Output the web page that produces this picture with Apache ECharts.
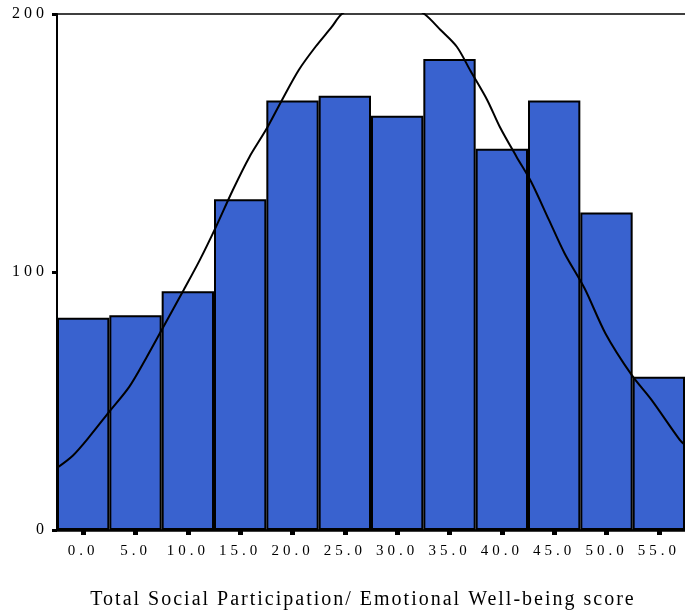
<!DOCTYPE html>
<html>
<head>
<meta charset="utf-8">
<script src="https://cdn.jsdelivr.net/npm/echarts@6/dist/echarts.min.js"></script>
<style>
html,body{margin:0;padding:0;background:#fff;}
#main{width:685px;height:611px;}
</style>
</head>
<body>
<div id="main"></div>
<script>
// --- data ---
const categories = ['0.0','5.0','10.0','15.0','20.0','25.0','30.0','35.0','40.0','45.0','50.0','55.0'];
const counts = [82.3, 83.2, 92.5, 128.2, 166.5, 168.3, 160.6, 182.6, 147.8, 166.5, 123.1, 59.4];
const curveX = [-2.5, -1.0, 0.6, 2.5, 4.4, 6.0, 7.5, 9.6, 11.15, 12.7, 14.3, 15.9, 17.45, 19.0, 20.6, 22.2, 23.75, 24.7, 26.5, 28.6, 30.7, 32.6, 34.15, 35.7, 37.0, 38.6, 39.8, 41.4, 42.8, 44.5, 46.0, 47.9, 49.9, 52.4, 54.3, 57.0, 57.5];
const curveY = [24.1, 28.8, 36.2, 45.9, 55.5, 66.5, 77.5, 93.0, 104.7, 117.6, 131.8, 144.7, 155.0, 166.7, 178.3, 187.3, 195.0, 200.0, 204.0, 206.0, 204.0, 200.0, 193.8, 187.3, 178.0, 166.7, 156.3, 144.7, 135.0, 120.2, 107.2, 93.7, 76.2, 60.1, 50.4, 34.9, 33.0];
const yTicks = [0, 100, 200];
const xTitle = 'Total Social Participation/ Emotional Well-being score';

// letter spacing like the SPSS output
(function(){
  const P = CanvasRenderingContext2D.prototype;
  const orig = P.fillText;
  P.fillText = function(t, x, y, w){
    const m = /(\d+(?:\.\d+)?)px/.exec(this.font);
    const s = m ? parseFloat(m[1]) : 12;
    try { this.letterSpacing = s >= 19 ? '2px' : '4px'; } catch(e) {}
    return w === undefined ? orig.call(this, t, x, y) : orig.call(this, t, x, y, w);
  };
})();

const chart = echarts.init(document.getElementById('main'), null, {renderer:'canvas'});
const font = 'Liberation Serif';
chart.setOption({
  animation: false,
  backgroundColor: '#fff',
  grid: {left: 57, top: 14, width: 633, height: 516, containLabel: false},
  xAxis: [{
    type: 'category',
    data: categories,
    position: 'bottom',
    boundaryGap: true,
    axisLine: {show: true, onZero: false, lineStyle: {color: '#000', width: 2.5}},
    axisTick: {show: true, alignWithLabel: true, length: 5, lineStyle: {color: '#000', width: 5}},
    axisLabel: {interval: 0, margin: 14, color: '#000', fontFamily: font, fontSize: 15},
    splitLine: {show: false}
  }, {
    type: 'value',
    min: -2.5, max: 57.5,
    position: 'top',
    axisLine: {show: true, onZero: false, lineStyle: {color: '#000', width: 1.5}},
    axisTick: {show: false},
    axisLabel: {show: false},
    splitLine: {show: false}
  }],
  yAxis: {
    type: 'value',
    position: 'left',
    min: yTicks[0], max: yTicks[yTicks.length-1], interval: 100,
    axisLine: {show: true, onZero: false, lineStyle: {color: '#000', width: 2}},
    axisTick: {show: true, length: 5, lineStyle: {color: '#000', width: 3}},
    axisLabel: {margin: 9, color: '#000', fontFamily: font, fontSize: 16},
    splitLine: {show: false}
  },
  graphic: [{
    type: 'text',
    x: 363, y: 600,
    style: {text: xTitle, fill: '#000', font: '20px "Liberation Serif"', textAlign: 'center', textVerticalAlign: 'middle'}
  }],
  series: [{
    type: 'bar',
    xAxisIndex: 0,
    data: counts,
    barWidth: '100%',
    barCategoryGap: '0%',
    itemStyle: {color: '#3962CF', borderColor: '#000', borderWidth: 2}
  }, {
    type: 'line',
    xAxisIndex: 1,
    data: curveX.map((x, i) => [x, curveY[i]]),
    smooth: 0.3,
    symbol: 'none',
    clip: true,
    lineStyle: {color: '#000', width: 2},
    z: 5
  }]
});
</script>
</body>
</html>
